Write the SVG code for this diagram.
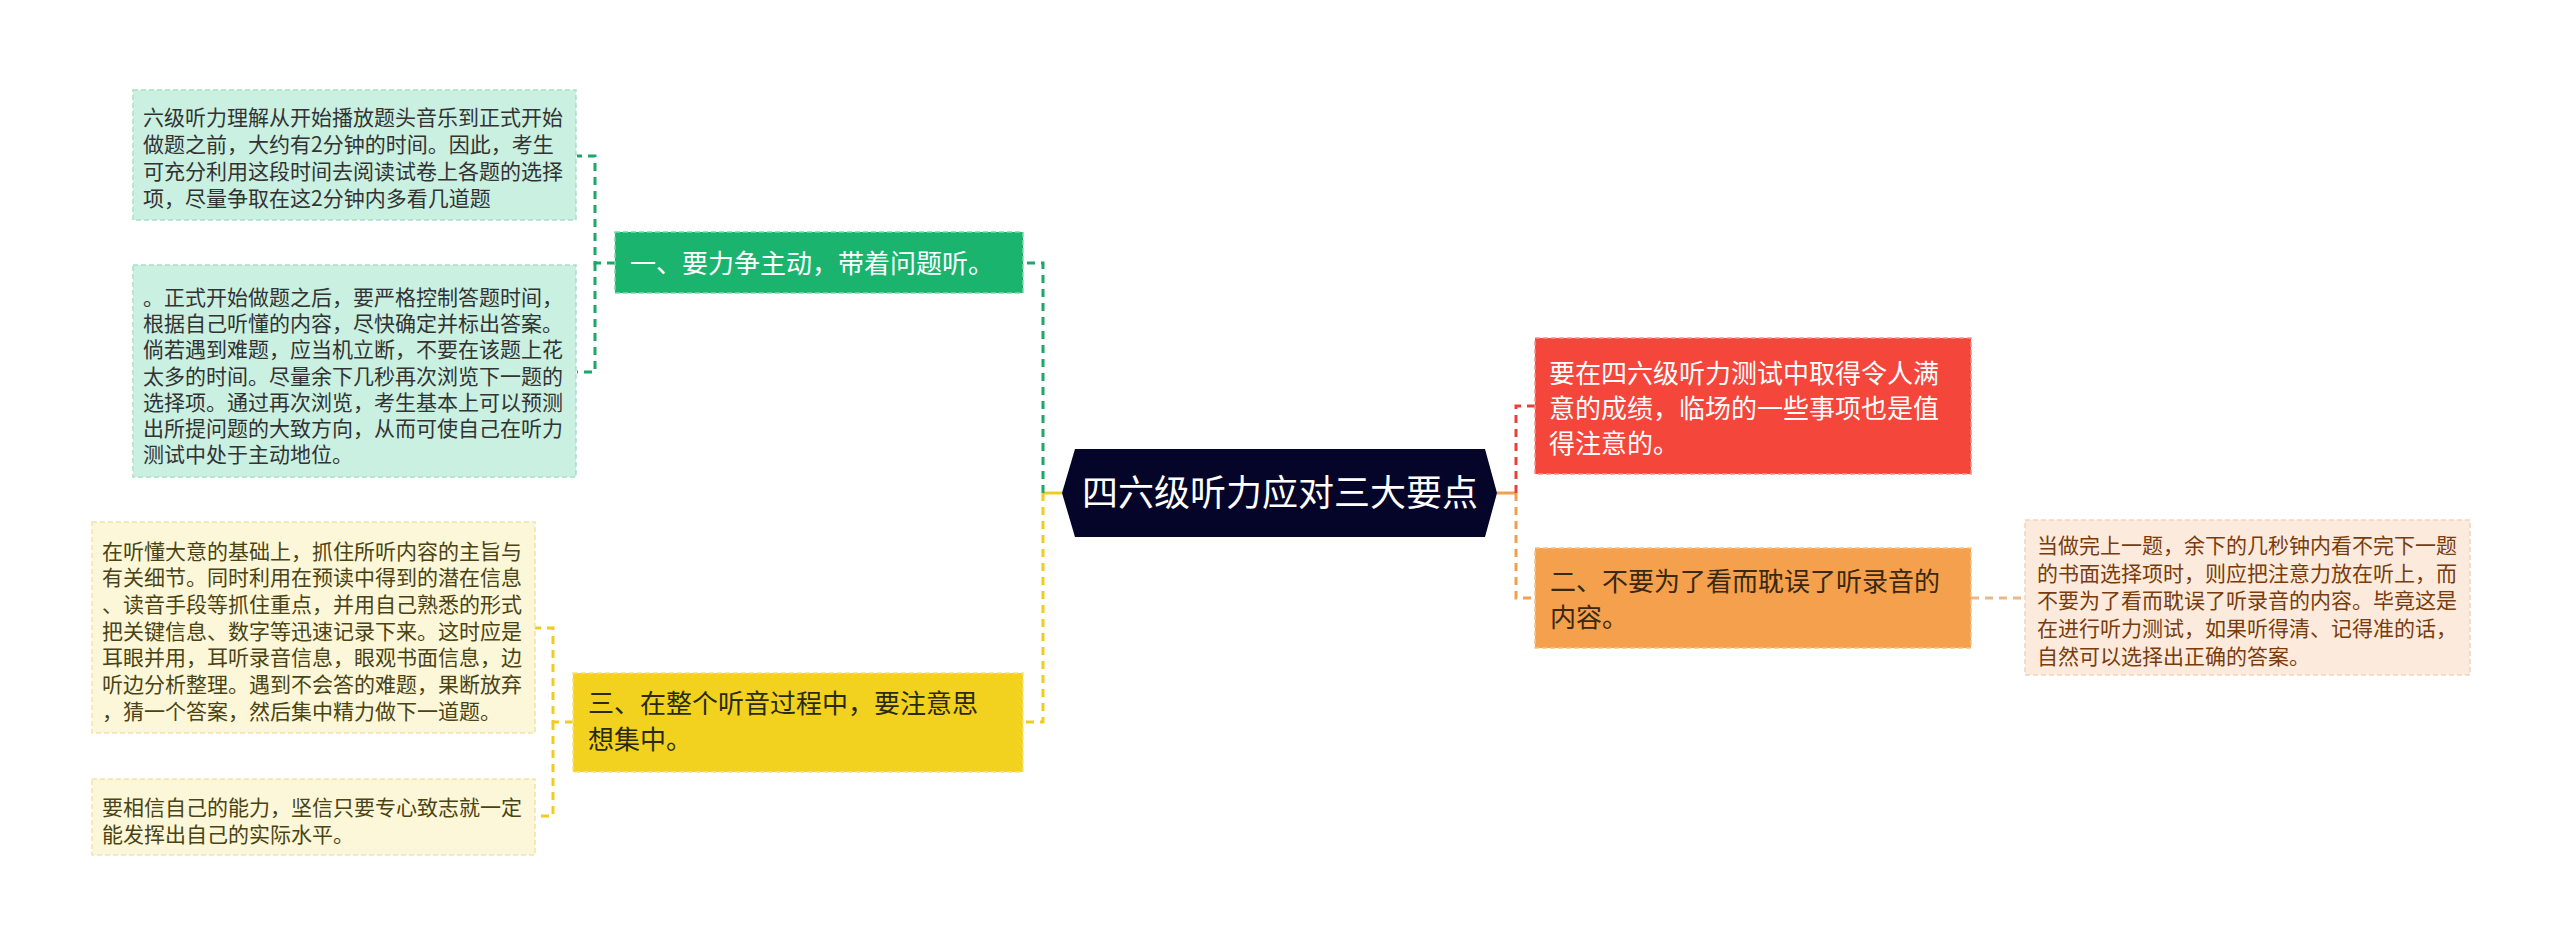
<svg xmlns="http://www.w3.org/2000/svg" width="2560" height="945" viewBox="0 0 2560 945">
<style>
text{font-family:"Noto Sans CJK SC","Noto Sans",sans-serif;}
.leaf{font-size:21px;}
.branch{font-size:26px;}
.box{stroke-width:1.5;stroke-dasharray:5 3;}
.c{fill:none;stroke-width:3;stroke-dasharray:8 6;}
</style>
<rect width="2560" height="945" fill="#ffffff"/>
<g id="connectors">
<path d="M1062,493 H1043" stroke="#F0CC22" stroke-width="3" fill="none"/>
<path class="c" d="M1043,493 V263 H1023" stroke="#1BA86A"/>
<path class="c" d="M1043,493 V722 H1023" stroke="#F0CC22"/>
<path class="c" d="M615,263 H595 V156 H577" stroke="#1BA86A" stroke-width="2"/>
<path class="c" d="M595,263 V372 H577" stroke="#1BA86A" stroke-width="2"/>
<path class="c" d="M573,722 H553 V628 H535" stroke="#F0CC22" stroke-width="2"/>
<path class="c" d="M553,722 V816 H535" stroke="#F0CC22" stroke-width="2"/>
<path d="M1497,493 H1516" stroke="#F0A050" stroke-width="3" fill="none"/>
<path class="c" d="M1516,493 V406 H1535" stroke="#E8403A"/>
<path class="c" d="M1516,493 V598 H1535" stroke="#F0A050"/>
<path class="c" d="M1971,598 H2025" stroke="#E8B88A" stroke-width="2"/>
</g>
<g id="root">
<polygon points="1062,493 1075,449 1485,449 1497,493 1485,537 1075,537" fill="#05052A"/>
<text x="1280" y="506" font-size="36" fill="#ffffff" text-anchor="middle">四六级听力应对三大要点</text>
</g>
<g id="branch1">
<rect class="box" x="615" y="232" width="408" height="61" fill="#1BB46E" stroke="#7AD8A8"/>
<text class="branch" x="630" y="273" fill="#ffffff">一、要力争主动，带着问题听。</text>
</g>
<g id="leaf1a">
<rect class="box" x="133" y="90" width="443" height="130" fill="#C9F0E1" stroke="#A9E0C8"/>
<text class="leaf" fill="#333333"><tspan x="143" y="125">六级听力理解从开始播放题头音乐到正式开始</tspan><tspan x="143" y="152">做题之前，大约有2分钟的时间。因此，考生</tspan><tspan x="143" y="179">可充分利用这段时间去阅读试卷上各题的选择</tspan><tspan x="143" y="206">项，尽量争取在这2分钟内多看几道题</tspan></text>
</g>
<g id="leaf1b">
<rect class="box" x="133" y="265" width="443" height="212" fill="#C9F0E1" stroke="#A9E0C8"/>
<text class="leaf" fill="#333333"><tspan x="143" y="305">。正式开始做题之后，要严格控制答题时间，</tspan><tspan x="143" y="331">根据自己听懂的内容，尽快确定并标出答案。</tspan><tspan x="143" y="357">倘若遇到难题，应当机立断，不要在该题上花</tspan><tspan x="143" y="384">太多的时间。尽量余下几秒再次浏览下一题的</tspan><tspan x="143" y="410">选择项。通过再次浏览，考生基本上可以预测</tspan><tspan x="143" y="436">出所提问题的大致方向，从而可使自己在听力</tspan><tspan x="143" y="462">测试中处于主动地位。</tspan></text>
</g>
<g id="branch3">
<rect class="box" x="573" y="673" width="450" height="99" fill="#F2D21F" stroke="#F8E27A"/>
<text class="branch" fill="#2A2A10"><tspan x="588" y="713">三、在整个听音过程中，要注意思</tspan><tspan x="588" y="749">想集中。</tspan></text>
</g>
<g id="leaf3a">
<rect class="box" x="92" y="522" width="443" height="211" fill="#FDF7D9" stroke="#EFE4B0"/>
<text class="leaf" fill="#4A4414"><tspan x="102" y="559">在听懂大意的基础上，抓住所听内容的主旨与</tspan><tspan x="102" y="585">有关细节。同时利用在预读中得到的潜在信息</tspan><tspan x="102" y="612">、读音手段等抓住重点，并用自己熟悉的形式</tspan><tspan x="102" y="639">把关键信息、数字等迅速记录下来。这时应是</tspan><tspan x="102" y="665">耳眼并用，耳听录音信息，眼观书面信息，边</tspan><tspan x="102" y="692">听边分析整理。遇到不会答的难题，果断放弃</tspan><tspan x="102" y="719">，猜一个答案，然后集中精力做下一道题。</tspan></text>
</g>
<g id="leaf3b">
<rect class="box" x="92" y="779" width="443" height="76" fill="#FDF7D9" stroke="#EFE4B0"/>
<text class="leaf" fill="#4A4414"><tspan x="102" y="815">要相信自己的能力，坚信只要专心致志就一定</tspan><tspan x="102" y="842">能发挥出自己的实际水平。</tspan></text>
</g>
<g id="branchR1">
<rect class="box" x="1535" y="338" width="436" height="136" fill="#F5463C" stroke="#F89088"/>
<text class="branch" fill="#ffffff"><tspan x="1549" y="383">要在四六级听力测试中取得令人满</tspan><tspan x="1549" y="418">意的成绩，临场的一些事项也是值</tspan><tspan x="1549" y="453">得注意的。</tspan></text>
</g>
<g id="branchR2">
<rect class="box" x="1535" y="548" width="436" height="100" fill="#F4A04C" stroke="#F8C488"/>
<text class="branch" fill="#3A2810"><tspan x="1550" y="591">二、不要为了看而耽误了听录音的</tspan><tspan x="1550" y="627">内容。</tspan></text>
</g>
<g id="leafR2">
<rect class="box" x="2025" y="520" width="445" height="155" fill="#FCEBDD" stroke="#F2D4BC"/>
<text class="leaf" fill="#7A3C0C"><tspan x="2037" y="553">当做完上一题，余下的几秒钟内看不完下一题</tspan><tspan x="2037" y="581">的书面选择项时，则应把注意力放在听上，而</tspan><tspan x="2037" y="608">不要为了看而耽误了听录音的内容。毕竟这是</tspan><tspan x="2037" y="636">在进行听力测试，如果听得清、记得准的话，</tspan><tspan x="2037" y="664">自然可以选择出正确的答案。</tspan></text>
</g>
</svg>
